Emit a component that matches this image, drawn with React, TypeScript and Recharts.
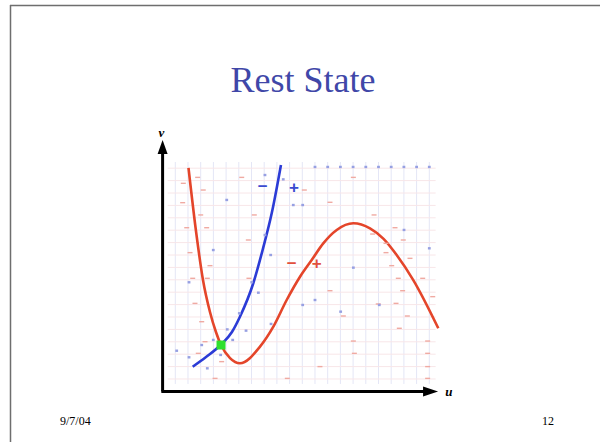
import React from 'react';
import { ComposedChart, XAxis, YAxis, Line, Scatter, ReferenceLine } from 'recharts';

// ---- data (u, v phase-plane coordinates, grid units) ----
const gridU = [0, 1, 2, 3, 4, 5, 6, 7, 8, 9, 10, 11, 12, 13, 14, 15, 16, 17, 18, 19, 20];
const gridV = [0, 1, 2, 3, 4, 5, 6, 7, 8, 9, 10, 11, 12, 13, 14, 15, 16, 17];

const redNullcline = [
  { u: 1.04, v: 17.02 }, { u: 1.67, v: 11.61 }, { u: 2.18, v: 7.98 }, { u: 2.73, v: 5.4 },
  { u: 3.2, v: 3.79 }, { u: 3.6, v: 2.74 }, { u: 4.31, v: 1.69 }, { u: 5.09, v: 1.27 },
  { u: 6.67, v: 2.61 }, { u: 7.72, v: 4.22 }, { u: 8.77, v: 6.37 }, { u: 9.82, v: 8.25 },
  { u: 10.74, v: 9.6 }, { u: 11.65, v: 10.94 }, { u: 12.71, v: 12.02 }, { u: 14.02, v: 12.56 },
  { u: 15.33, v: 12.15 }, { u: 16.4, v: 11.3 }, { u: 17.43, v: 10.0 }, { u: 18.74, v: 7.98 },
  { u: 20.71, v: 4.09 },
];

const blueNullcline = [
  { u: 1.37, v: 0.99 }, { u: 2.42, v: 1.77 }, { u: 3.57, v: 2.74 }, { u: 4.46, v: 3.79 },
  { u: 5.09, v: 5.02 }, { u: 6.14, v: 7.72 }, { u: 6.9, v: 10.5 }, { u: 7.6, v: 13.4 },
  { u: 8.32, v: 17.26 },
];

const restPoint = [{ u: 3.6, v: 2.74 }];

const redArrows = [
  { u: 0.63, v: 15.78 }, { u: 1.76, v: 16.26 }, { u: 2.2, v: 15.24 }, { u: 0.58, v: 14.22 },
  { u: 2.0, v: 13.23 }, { u: 0.9, v: 12.2 }, { u: 2.47, v: 12.2 }, { u: 1.16, v: 10.19 },
  { u: 2.73, v: 9.14 }, { u: 1.37, v: 8.12 }, { u: 2.52, v: 8.12 }, { u: 1.55, v: 6.1 },
  { u: 2.08, v: 4.62 }, { u: 1.81, v: 2.07 }, { u: 2.34, v: 3.01 }, { u: 3.13, v: 0.05 },
  { u: 3.65, v: 1.4 }, { u: 5.23, v: 16.26 }, { u: 6.22, v: 13.23 }, { u: 5.75, v: 11.21 },
  { u: 5.8, v: 8.12 }, { u: 10.16, v: 15.24 }, { u: 12.18, v: 14.25 }, { u: 14.02, v: 16.26 },
  { u: 15.65, v: 13.23 }, { u: 17.3, v: 12.2 }, { u: 15.54, v: 11.69 }, { u: 16.59, v: 10.94 },
  { u: 17.95, v: 11.21 }, { u: 16.59, v: 10.19 }, { u: 18.48, v: 9.73 }, { u: 17.04, v: 9.14 },
  { u: 17.56, v: 8.12 }, { u: 19.48, v: 8.12 }, { u: 17.9, v: 7.12 }, { u: 20.27, v: 6.64 },
  { u: 12.18, v: 7.12 }, { u: 17.38, v: 6.1 }, { u: 15.98, v: 6.05 }, { u: 13.23, v: 5.08 },
  { u: 18.27, v: 5.08 }, { u: 17.64, v: 4.09 }, { u: 14.02, v: 3.06 }, { u: 19.87, v: 3.06 },
  { u: 14.1, v: 2.07 }, { u: 19.87, v: 2.07 }, { u: 11.39, v: 1.0 }, { u: 19.87, v: 1.0 },
  { u: 8.82, v: 0.05 }, { u: 19.87, v: 0.05 },
];

const blueArrows = [
  { u: 11, v: 17.1 }, { u: 12, v: 17.1 }, { u: 13, v: 17.1 }, { u: 14, v: 17.1 }, { u: 15, v: 17.1 },
  { u: 16, v: 17.1 }, { u: 17, v: 17.1 }, { u: 18, v: 17.1 }, { u: 19, v: 17.1 }, { u: 20, v: 17.1 },
  { u: 7.06, v: 16.45 }, { u: 8.5, v: 16.1 }, { u: 9.29, v: 14.03 }, { u: 10.03, v: 14.03 },
  { u: 4.05, v: 14.44 }, { u: 7.06, v: 11.61 }, { u: 7.51, v: 10.0 }, { u: 1.08, v: 7.8 },
  { u: 2.99, v: 10.4 }, { u: 6.02, v: 7.8 }, { u: 6.54, v: 6.96 }, { u: 5.04, v: 5.3 },
  { u: 7.54, v: 4.44 }, { u: 5.57, v: 3.9 }, { u: 4.09, v: 4.0 }, { u: 4.52, v: 3.15 },
  { u: 2.99, v: 3.15 }, { u: 2.08, v: 2.74 }, { u: 0.11, v: 2.28 }, { u: 1.08, v: 1.75 },
  { u: 2.52, v: 0.86 }, { u: 3.57, v: 1.94 }, { u: 11.0, v: 6.37 }, { u: 10.03, v: 5.97 },
  { u: 13.02, v: 5.43 }, { u: 16.06, v: 5.97 }, { u: 14.02, v: 8.98 }, { u: 18.01, v: 12.02 },
  { u: 20.0, v: 10.54 },
];

const signs = [
  { u: 6.88, v: 15.56, s: '\u2212', kind: 'blue' },
  { u: 9.35, v: 15.43, s: '+', kind: 'blue' },
  { u: 9.16, v: 9.35, s: '\u2212', kind: 'red' },
  { u: 11.14, v: 9.3, s: '+', kind: 'red' },
];

const axisOrigin = { u: -1, v: -1 };
const vAxisTip = [{ u: -1, v: 19.27 }];
const uAxisTip = [{ u: 20.69, v: -1 }];
const axisLabels = [
  { u: -1.1, v: 19.85, s: 'v' },
  { u: 21.55, v: -1, s: 'u' },
];

// ---- styling ----
const W = 600;
const H = 442;
const RED = '#e4452a';
const BLUE = '#2b3bd6';

const RedDash = (p: any) => (
  <line x1={p.cx - 2.5} x2={p.cx + 2.5} y1={p.cy} y2={p.cy} stroke="#f0aaa2" strokeWidth={1.4} />
);
const BlueDot = (p: any) => (
  <rect x={p.cx - 1.4} y={p.cy - 1.2} width={2.8} height={2.4} fill="#97a0e2" />
);
const GreenSquare = (p: any) => (
  <rect x={p.cx - 4.5} y={p.cy - 4.5} width={9} height={9} fill="#2ee02e" />
);
const SignShape = (p: any) => {
  const d = p.payload || {};
  return (
    <text
      x={p.cx}
      y={p.cy}
      textAnchor="middle"
      dominantBaseline="central"
      fontFamily="Liberation Sans, Arial, sans-serif"
      fontWeight="bold"
      fontSize={17}
      fill={d.kind === 'blue' ? '#3a4bd0' : '#e2503c'}
    >
      {d.s}
    </text>
  );
};
const UpArrow = (p: any) => (
  <polygon points={`${p.cx},${p.cy} ${p.cx - 5},${p.cy + 14} ${p.cx + 5},${p.cy + 14}`} fill="#000" />
);
const RightArrow = (p: any) => (
  <polygon points={`${p.cx},${p.cy} ${p.cx - 15},${p.cy - 5} ${p.cx - 15},${p.cy + 5}`} fill="#000" />
);
const AxisLabel = (p: any) => {
  const d = p.payload || {};
  return (
    <text
      x={p.cx}
      y={p.cy}
      textAnchor="middle"
      dominantBaseline="central"
      fontFamily="Liberation Serif, Times New Roman, serif"
      fontStyle="italic"
      fontWeight="bold"
      fontSize={13}
      fill="#000"
    >
      {d.s}
    </text>
  );
};

export default function App() {
  return (
    <div style={{ position: 'absolute', left: 0, top: 0, width: W, height: H, background: '#fff', overflow: 'hidden' }}>
      <ComposedChart width={W} height={H} margin={{ top: 0, right: 0, bottom: 0, left: 0 }}>
        <XAxis type="number" dataKey="u" domain={[-13.803, 33.441]} allowDataOverflow hide />
        <YAxis type="number" dataKey="v" domain={[-5.081, 30.565]} allowDataOverflow hide />

        {gridU.map((g) => (
          <ReferenceLine
            key={`gu${g}`}
            segment={[{ x: g, y: -0.4 }, { x: g, y: 17.5 }]}
            stroke="#e4e6f6"
            strokeWidth={1}
            ifOverflow="visible"
          />
        ))}
        {gridV.map((g) => (
          <ReferenceLine
            key={`gv${g}`}
            segment={[{ x: -0.6, y: g }, { x: 20.5, y: g }]}
            stroke="#f8e6e8"
            strokeWidth={1}
            ifOverflow="visible"
          />
        ))}

        <Scatter data={redArrows} shape={RedDash} isAnimationActive={false} />
        <Scatter data={blueArrows} shape={BlueDot} isAnimationActive={false} />

        <Line
          data={blueNullcline}
          dataKey="v"
          type="monotoneX"
          stroke={BLUE}
          strokeWidth={2.6}
          dot={false}
          isAnimationActive={false}
        />
        <Line
          data={redNullcline}
          dataKey="v"
          type="monotoneX"
          stroke={RED}
          strokeWidth={2.6}
          dot={false}
          isAnimationActive={false}
        />
        <Scatter data={restPoint} shape={GreenSquare} isAnimationActive={false} />
        <Scatter data={signs} shape={SignShape} isAnimationActive={false} />

        <ReferenceLine
          segment={[{ x: axisOrigin.u, y: axisOrigin.v }, { x: axisOrigin.u, y: 18.3 }]}
          stroke="#000"
          strokeWidth={3}
          ifOverflow="visible"
        />
        <ReferenceLine
          segment={[{ x: axisOrigin.u - 0.1, y: axisOrigin.v }, { x: 19.6, y: axisOrigin.v }]}
          stroke="#000"
          strokeWidth={3}
          ifOverflow="visible"
        />
        <Scatter data={vAxisTip} shape={UpArrow} isAnimationActive={false} />
        <Scatter data={uAxisTip} shape={RightArrow} isAnimationActive={false} />
        <Scatter data={axisLabels} shape={AxisLabel} isAnimationActive={false} />
      </ComposedChart>

      <svg
        width={W}
        height={H}
        style={{ position: 'absolute', left: 0, top: 0, pointerEvents: 'none' }}
      >
        <line x1={10.5} y1={5} x2={10.5} y2={H} stroke="#6e6e6e" strokeWidth={1.5} />
        <line x1={10} y1={5.5} x2={W} y2={5.5} stroke="#6e6e6e" strokeWidth={1.5} />
        <text
          x={303}
          y={92}
          textAnchor="middle"
          fontFamily="Liberation Serif, Times New Roman, serif"
          fontSize={36}
          fill="#4047a8"
        >
          Rest State
        </text>
        <text x={60} y={425} fontFamily="Liberation Serif, Times New Roman, serif" fontSize={12} fill="#000">
          9/7/04
        </text>
        <text x={542} y={425} fontFamily="Liberation Serif, Times New Roman, serif" fontSize={12} fill="#000">
          12
        </text>
      </svg>
    </div>
  );
}
